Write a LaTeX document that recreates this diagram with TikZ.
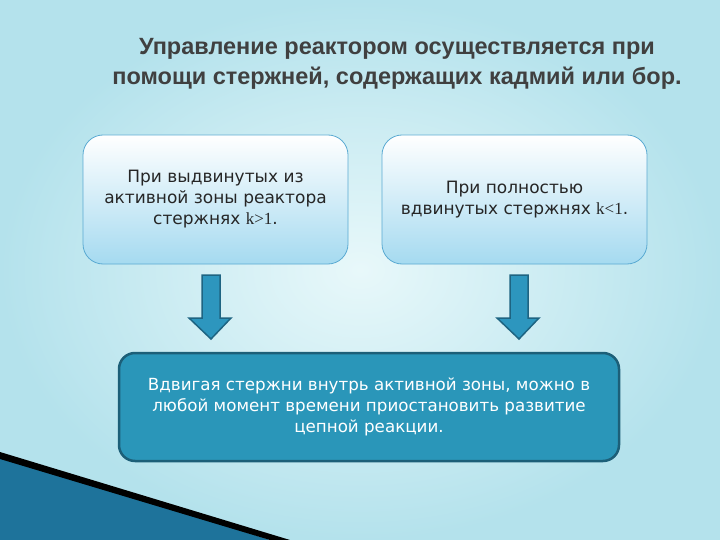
\documentclass[tikz,border=0pt]{standalone}
\usepackage{fontspec}
\setmainfont{DejaVu Sans}
\newfontfamily\titlef{Liberation Sans}
\newfontfamily\serf{Liberation Serif}
\definecolor{bgA}{RGB}{232,248,250}
\definecolor{bgB}{RGB}{180,226,236}
\definecolor{boxB}{RGB}{165,218,240}
\definecolor{boxE}{RGB}{90,170,210}
\definecolor{mainF}{RGB}{42,150,185}
\definecolor{mainE}{RGB}{28,95,120}
\definecolor{arrF}{RGB}{45,150,190}
\definecolor{arrE}{RGB}{30,100,130}
\definecolor{wedge}{RGB}{30,115,155}
\begin{document}
\begin{tikzpicture}[x=1pt,y=-1pt,
 topbox/.style={draw=boxE, line width=0.8pt, rounded corners=20pt, top color=white, bottom color=boxB, minimum width=265pt, minimum height=129pt, align=center, font=\fontsize{17}{21}\selectfont, text=black!85},
 arr/.style={draw=arrE, line width=1.5pt, fill=arrF}]
\useasboundingbox (0,0) rectangle (720,540);
\shade[inner color=bgA, outer color=bgB] (0,0) rectangle (720,540);
\fill[wedge] (0,455) -- (270,540) -- (0,540) -- cycle;
\fill[black] (0,452) -- (290,540) -- (270,540) -- (0,459) -- cycle;
\node[font=\titlef\bfseries\fontsize{23.5}{30}\selectfont, align=center, text=black!75] (t) at (397,64) {Управление реактором осуществляется при\\помощи стержней, содержащих кадмий или бор.};
\node[topbox] (a) at (215.5,199.5) {При выдвинутых из\\активной зоны реактора\\стержнях {\serf k>1}.};
\node[topbox] (b) at (514.5,199.5) {При полностью\\вдвинутых стержнях {\serf k<1}.};
\node[draw=mainE, line width=2.5pt, rounded corners=16pt, fill=mainF, minimum width=500pt, minimum height=108pt, align=center, text=white, font=\fontsize{16.7}{21}\selectfont] (c) at (369,407) {Вдвигая стержни внутрь активной зоны, можно в\\любой момент времени приостановить развитие\\цепной реакции.};
\draw[arr] (202,275) -- (220,275) -- (220,318) -- (231,318) -- (211,339) -- (189,318) -- (202,318) -- cycle;
\draw[arr] (510,275) -- (528,275) -- (528,318) -- (539,318) -- (519,339) -- (497,318) -- (510,318) -- cycle;
\end{tikzpicture}
\end{document}
